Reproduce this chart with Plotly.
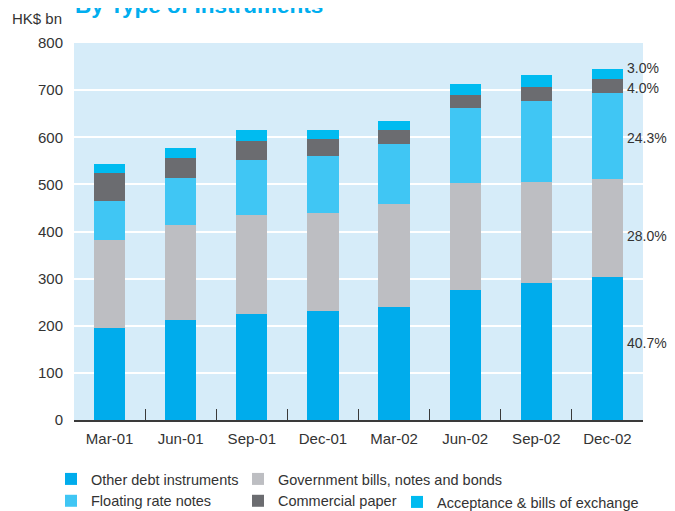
import plotly.graph_objects as go

categories = ["Mar-01", "Jun-01", "Sep-01", "Dec-01", "Mar-02", "Jun-02", "Sep-02", "Dec-02"]
other_debt = [195, 212, 225, 231, 240, 276, 291, 303]
government = [187, 201, 210, 208, 218, 227, 214, 209]
floating = [83, 100, 117, 121, 128, 159, 172, 181]
commercial = [59, 43, 40, 36, 29, 28, 30, 30]
acceptance = [19, 21, 23, 19, 19, 23, 25, 22]

share_labels = ["40.7%", "28.0%", "24.3%", "4.0%", "3.0%"]
share_label_y = [163, 390, 598, 704, 747]

FONT = "Liberation Sans, Arial, sans-serif"
TXT = "#333333"

# page has an 8px body margin; plot area on screen: x 74..643, y 43..420
OFF = 8
PX0, PW, PY1, PH = 74, 569, 420, 377
FIG_W, FIG_H = 675 - 2 * OFF, 511 - OFF


def px(xs):
    return (xs - PX0) / PW


def py(ys):
    return (PY1 - ys) / PH


series = [
    ("Other debt instruments", other_debt, "#00ACEC", "legend"),
    ("Government bills, notes and bonds", government, "#BDBEC2", "legend2"),
    ("Floating rate notes", floating, "#40C6F4", "legend"),
    ("Commercial paper", commercial, "#6B6C70", "legend2"),
    ("Acceptance & bills of exchange", acceptance, "#00BBF0", "legend3"),
]

fig = go.Figure()
for name, vals, col, lg in series:
    fig.add_trace(go.Bar(x=categories, y=vals, name=name, marker=dict(color=col, line=dict(width=0)),
                         width=0.44, legend=lg))

annotations = [
    dict(text="<b>By Type of Instruments</b>", xref="paper", yref="paper", x=px(73), y=py(6),
         xanchor="left", yanchor="middle", showarrow=False,
         font=dict(family=FONT, size=22.5, color="#00AEEF")),
    dict(text="HK$ bn", xref="paper", yref="paper", x=px(64), y=py(19),
         xanchor="right", yanchor="middle", showarrow=False,
         font=dict(family=FONT, size=15, color=TXT)),
]
for t, yv in zip(share_labels, share_label_y):
    annotations.append(dict(text=t, xref="paper", yref="y", x=px(625), y=yv,
                            xanchor="left", yanchor="middle", showarrow=False,
                            font=dict(family=FONT, size=14, color=TXT)))

legend_common = dict(orientation="v", xanchor="left", yanchor="top",
                     font=dict(family=FONT, size=14.5, color=TXT), bgcolor="rgba(0,0,0,0)",
                     tracegroupgap=0, itemwidth=30, traceorder="normal")

fig.update_layout(
    width=FIG_W, height=FIG_H,
    margin=dict(l=PX0 - OFF, r=FIG_W - (PX0 - OFF) - PW, t=(PY1 - PH) - OFF,
                b=FIG_H - (PY1 - OFF), autoexpand=False),
    paper_bgcolor="white",
    plot_bgcolor="#D6ECF9",
    barmode="stack",
    showlegend=True,
    legend=dict(**legend_common, x=px(51), y=py(463)),
    legend2=dict(**legend_common, x=px(238), y=py(463)),
    legend3=dict(**legend_common, x=px(397), y=py(486)),
    font=dict(family=FONT, size=15, color=TXT),
    xaxis=dict(type="category", showgrid=False, showline=True,
               linecolor="#3A3A3A", linewidth=1.5, ticks="inside", tickson="boundaries",
               ticklen=11, tickwidth=1.2, tickcolor="#3A3A3A", tickangle=0, ticklabelstandoff=4,
               tickfont=dict(family=FONT, size=15, color=TXT), zeroline=False),
    yaxis=dict(range=[0, 800], tickvals=[0, 100, 200, 300, 400, 500, 600, 700, 800],
               showgrid=True, gridcolor="white", gridwidth=2, zeroline=False, showline=False,
               ticks="outside", ticklen=7, tickcolor="rgba(0,0,0,0)",
               tickfont=dict(family=FONT, size=15, color=TXT)),
    annotations=annotations,
)

fig.write_html("out.html")
